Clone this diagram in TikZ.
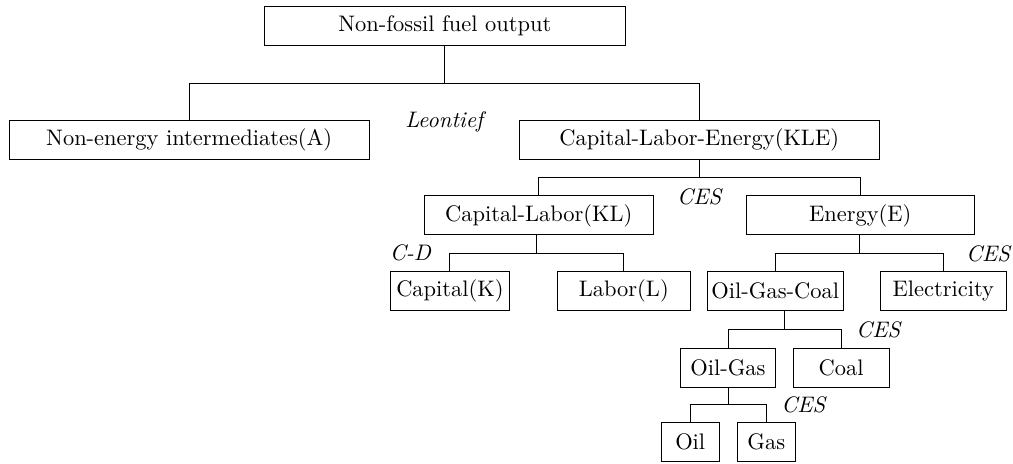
\documentclass[tikz,border=0pt]{standalone}
\usepackage{tikz}
\usetikzlibrary{calc,positioning}
\newcommand{\boxht}{0.61 cm}
\tikzset{
    boxsty/.style={draw,fill=white,rectangle,minimum height=\boxht,inner sep=2pt,anchor=center},
    funcsty/.style={font=\itshape,inner sep=0pt,anchor=center},
}
% parent, left child, right child
\newcommand{\treebranch}[3]{%
    \coordinate (#1-mid) at ($(#2.north)!0.5!(#3.north)$);
    \coordinate (#1-bus) at ($(#1.south)!0.5!(#2.north)$);
    \draw (#1.south -| #1-mid) -- (#1-mid |- #1-bus);
    \draw (#2.north) |- (#1-mid |- #1-bus) -| (#3.north);
}

\begin{document}
\begin{tikzpicture}
\useasboundingbox (0,0) rectangle (15.85,-7.245);

\node[boxsty,minimum width=5.65cm] (out) at (6.96,-0.41) {Non-fossil fuel output};
\node[boxsty,minimum width=5.63cm] (A) at (2.96,-2.19) {Non-energy intermediates(A)};
\node[boxsty,minimum width=5.63cm] (KLE) at (10.94,-2.19) {Capital-Labor-Energy(KLE)};
\node[boxsty,minimum width=3.58cm] (KL) at (8.43,-3.37) {Capital-Labor(KL)};
\node[boxsty,minimum width=3.57cm] (E) at (13.46,-3.37) {Energy(E)};
\node[boxsty,minimum width=1.86cm] (K) at (7.04,-4.55) {Capital(K)};
\node[boxsty,minimum width=2.08cm] (L) at (9.76,-4.55) {Labor(L)};
\node[boxsty,minimum width=2.10cm] (OGC) at (12.13,-4.55) {Oil-Gas-Coal};
\node[boxsty,minimum width=1.96cm] (elec) at (14.76,-4.55) {Electricity};
\node[boxsty,minimum width=1.50cm] (OG) at (11.39,-5.75) {Oil-Gas};
\node[boxsty,minimum width=1.50cm] (coal) at (13.16,-5.75) {Coal};
\node[boxsty,minimum width=0.91cm] (oil) at (10.80,-6.92) {Oil};
\node[boxsty,minimum width=0.91cm] (gas) at (11.99,-6.92) {Gas};

\treebranch{out}{A}{KLE}
\treebranch{KLE}{KL}{E}
\treebranch{KL}{K}{L}
\treebranch{E}{OGC}{elec}
\treebranch{OGC}{OG}{coal}
\treebranch{OG}{oil}{gas}

\node[funcsty] (leon) at (6.95,-1.91) {Leontief};
\node[funcsty] (ces1) at (10.94,-3.08) {CES};
\node[funcsty] (cd) at (6.42,-3.96) {C-D};
\node[funcsty] (ces2) at (15.46,-3.97) {CES};
\node[funcsty] (ces3) at (13.74,-5.16) {CES};
\node[funcsty] (ces4) at (12.57,-6.34) {CES};
\end{tikzpicture}
\end{document}
